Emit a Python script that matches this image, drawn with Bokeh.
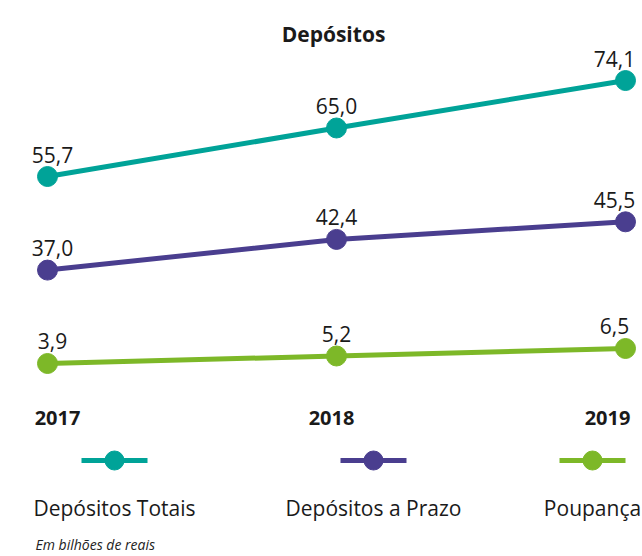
from bokeh.plotting import figure
from bokeh.models import Range1d, ColumnDataSource
from bokeh.core.properties import value
from bokeh.embed import file_html
from bokeh.resources import INLINE

# ---- data ----
years = [2017, 2018, 2019]
depositos_totais = [55.7, 65.0, 74.1]
depositos_prazo = [37.0, 42.4, 45.5]
poupanca = [3.9, 5.2, 6.5]
series_names = ["Depósitos Totais", "Depósitos a Prazo", "Poupança"]
title_text = "Depósitos"
footnote_text = "Em bilhões de reais"

# ---- styling / layout ----
W, H = 642, 556
FONT = value("Open Sans")
TXT = "#1a1a1a"
colors = ["#00A398", "#4A3E8F", "#7DB828"]
range_names = ["tot", "pra", "pou"]
# each series drawn on its own vertical scale (bands, like the original design)
series_ranges = [(-17.14, 89.44), (-13.42, 84.46), (-29.55, 66.81)]
label_dx = [5, 0, -11]
year_dx = [10, -5, -18]
legend_cx = [114, 373, 592]
legend_y = 460
legend_text_y = 507
year_y = 417

p = figure(width=W, height=H,
           x_range=Range1d(2016.83737, 2019.05882),
           y_range=Range1d(H, 0),
           output_backend="svg", toolbar_location=None,
           x_axis_location=None, y_axis_location=None,
           min_border=0, title=None)
p.outline_line_color = None
p.xgrid.visible = False
p.ygrid.visible = False
p.background_fill_color = "white"
p.border_fill_color = "white"
p.extra_x_ranges = {"px": Range1d(0, W)}
p.extra_y_ranges = {n: Range1d(a, b) for n, (a, b) in zip(range_names, series_ranges)}

def fmt(v):
    return f"{v:.1f}".replace(".", ",")

for vals, c, rn in zip([depositos_totais, depositos_prazo, poupanca], colors, range_names):
    src = ColumnDataSource(dict(x=years, y=vals, t=[fmt(v) for v in vals], dx=label_dx))
    p.line("x", "y", source=src, y_range_name=rn, line_width=5, line_color=c)
    p.scatter("x", "y", source=src, y_range_name=rn, size=20, marker="circle",
              fill_color=c, line_color=c)
    p.text("x", "y", text="t", source=src, y_range_name=rn, x_offset="dx", y_offset=-22,
           text_align="center", text_baseline="alphabetic", text_font=FONT,
           text_font_size="21px", text_color=TXT)

# year labels
ysrc = ColumnDataSource(dict(x=years, y=[year_y] * 3, t=[str(y) for y in years], dx=year_dx))
p.text("x", "y", text="t", source=ysrc, x_offset="dx", text_align="center",
       text_baseline="alphabetic", text_font=FONT, text_font_size="20px",
       text_font_style="bold", text_color=TXT)

# title
p.text([333], [33], text=[title_text], x_range_name="px", text_align="center",
       text_baseline="alphabetic", text_font=FONT, text_font_size="21px",
       text_font_style="bold", text_color=TXT)

# legend
for name, c, cx in zip(series_names, colors, legend_cx):
    p.segment(x0=[cx - 33], y0=[legend_y], x1=[cx + 33], y1=[legend_y], x_range_name="px",
              line_width=5, line_color=c)
    p.scatter([cx], [legend_y], x_range_name="px", size=19, marker="circle",
              fill_color=c, line_color=c)
    p.text([cx], [legend_text_y], text=[name], x_range_name="px", text_align="center",
           text_baseline="alphabetic", text_font=FONT, text_font_size="21px",
           text_color=TXT)

# footnote
p.text([35], [544], text=[footnote_text], x_range_name="px", text_align="left",
       text_baseline="alphabetic", text_font=FONT, text_font_size="14px",
       text_font_style="italic", text_color="#222222")

open("out.html", "w").write(file_html(p, INLINE))
